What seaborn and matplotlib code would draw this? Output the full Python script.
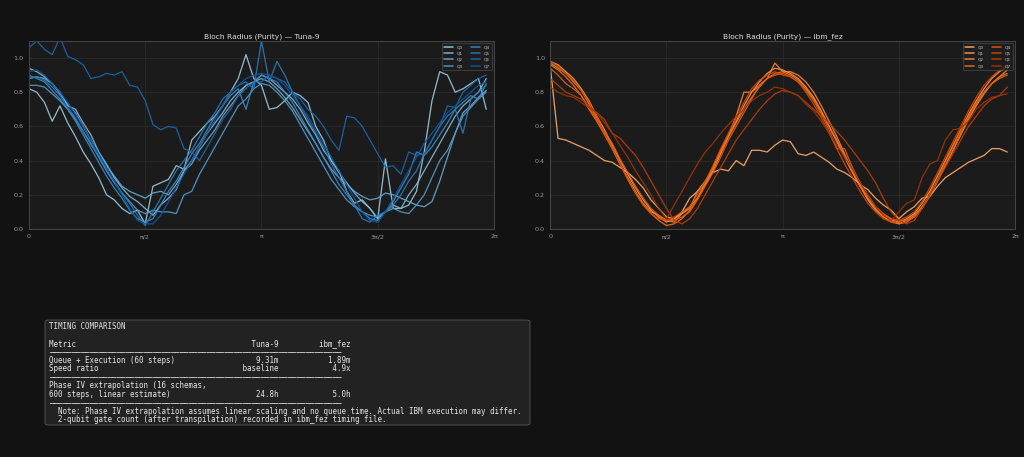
import numpy as np
import pandas as pd
import matplotlib
matplotlib.use("Agg")
import matplotlib.pyplot as plt
from matplotlib.patches import FancyBboxPatch
import seaborn as sns

# --- data -------------------------------------------------------------
n_steps = 60
qubits = ["Q0", "Q1", "Q2", "Q3", "Q4", "Q5", "Q6", "Q7"]

tuna_q0 = [0.82, 0.80, 0.74, 0.63, 0.72, 0.62, 0.54, 0.45, 0.38, 0.30, 0.20, 0.17, 0.12, 0.09, 0.11, 0.03, 0.25, 0.27, 0.29, 0.37,
           0.35, 0.52, 0.57, 0.62, 0.66, 0.72, 0.80, 0.88, 1.02, 0.88, 0.84, 0.70, 0.71, 0.75, 0.80, 0.78, 0.74, 0.60, 0.52, 0.40,
           0.34, 0.22, 0.15, 0.17, 0.12, 0.06, 0.41, 0.12, 0.12, 0.14, 0.22, 0.45, 0.75, 0.92, 0.90, 0.80, 0.82, 0.85, 0.88, 0.70]
tuna_q1 = [0.94, 0.92, 0.89, 0.85, 0.80, 0.72, 0.70, 0.62, 0.55, 0.45, 0.38, 0.30, 0.24, 0.19, 0.16, 0.12, 0.08, 0.14, 0.18, 0.23,
           0.34, 0.40, 0.48, 0.56, 0.62, 0.68, 0.75, 0.80, 0.84, 0.86, 0.90, 0.88, 0.84, 0.80, 0.76, 0.70, 0.62, 0.55, 0.46, 0.40,
           0.33, 0.27, 0.21, 0.16, 0.12, 0.06, 0.10, 0.14, 0.12, 0.20, 0.26, 0.34, 0.42, 0.50, 0.58, 0.66, 0.72, 0.76, 0.80, 0.88]
tuna_q2 = [0.88, 0.89, 0.88, 0.85, 0.79, 0.73, 0.68, 0.60, 0.52, 0.45, 0.37, 0.31, 0.25, 0.22, 0.20, 0.18, 0.21, 0.22, 0.20, 0.26,
           0.34, 0.38, 0.46, 0.52, 0.58, 0.66, 0.72, 0.78, 0.84, 0.86, 0.88, 0.86, 0.82, 0.77, 0.71, 0.64, 0.57, 0.50, 0.42, 0.35,
           0.30, 0.26, 0.22, 0.19, 0.17, 0.18, 0.21, 0.20, 0.18, 0.16, 0.14, 0.13, 0.16, 0.28, 0.42, 0.56, 0.68, 0.72, 0.77, 0.81]
tuna_q3 = [0.84, 0.84, 0.83, 0.79, 0.75, 0.70, 0.64, 0.57, 0.50, 0.42, 0.34, 0.27, 0.21, 0.16, 0.11, 0.09, 0.11, 0.10, 0.10, 0.09,
           0.20, 0.22, 0.32, 0.40, 0.48, 0.56, 0.64, 0.72, 0.76, 0.82, 0.85, 0.84, 0.80, 0.75, 0.69, 0.61, 0.53, 0.45, 0.37, 0.29,
           0.23, 0.17, 0.13, 0.10, 0.08, 0.07, 0.10, 0.12, 0.10, 0.09, 0.14, 0.20, 0.30, 0.40, 0.46, 0.56, 0.66, 0.71, 0.76, 0.80]
tuna_q4 = [0.90, 0.88, 0.86, 0.81, 0.76, 0.70, 0.63, 0.55, 0.47, 0.39, 0.31, 0.24, 0.18, 0.11, 0.06, 0.04, 0.06, 0.14, 0.22, 0.28,
           0.36, 0.44, 0.50, 0.58, 0.66, 0.72, 0.78, 0.82, 0.70, 0.86, 0.90, 0.88, 0.86, 0.80, 0.74, 0.66, 0.58, 0.50, 0.42, 0.34,
           0.26, 0.20, 0.14, 0.10, 0.06, 0.05, 0.10, 0.16, 0.24, 0.32, 0.45, 0.43, 0.48, 0.55, 0.62, 0.70, 0.74, 0.78, 0.76, 0.85]
tuna_q5 = [0.88, 0.89, 0.87, 0.83, 0.78, 0.71, 0.65, 0.57, 0.49, 0.43, 0.35, 0.28, 0.21, 0.15, 0.08, 0.02, 0.10, 0.18, 0.26, 0.34,
           0.40, 0.46, 0.54, 0.62, 0.68, 0.76, 0.80, 0.84, 0.86, 0.82, 1.10, 0.86, 0.98, 0.90, 0.80, 0.72, 0.64, 0.56, 0.48, 0.38,
           0.30, 0.22, 0.14, 0.06, 0.04, 0.08, 0.10, 0.14, 0.20, 0.28, 0.34, 0.44, 0.52, 0.60, 0.66, 0.70, 0.56, 0.76, 0.80, 0.84]
tuna_q6 = [1.06, 1.10, 1.05, 1.02, 1.12, 1.01, 0.99, 0.96, 0.88, 0.89, 0.91, 0.90, 0.92, 0.84, 0.83, 0.75, 0.61, 0.58, 0.60, 0.59,
           0.47, 0.45, 0.40, 0.48, 0.56, 0.64, 0.70, 0.78, 0.82, 0.86, 0.86, 0.90, 0.88, 0.86, 0.80, 0.76, 0.70, 0.66, 0.60, 0.52,
           0.46, 0.66, 0.65, 0.60, 0.52, 0.44, 0.36, 0.37, 0.32, 0.45, 0.43, 0.44, 0.52, 0.60, 0.72, 0.71, 0.80, 0.84, 0.88, 0.90]
tuna_q7 = [0.92, 0.93, 0.90, 0.85, 0.80, 0.74, 0.67, 0.60, 0.52, 0.44, 0.36, 0.28, 0.20, 0.12, 0.05, 0.03, 0.03, 0.08, 0.16, 0.24,
           0.32, 0.40, 0.48, 0.56, 0.64, 0.72, 0.80, 0.84, 0.88, 0.90, 0.91, 0.90, 0.88, 0.84, 0.78, 0.72, 0.66, 0.58, 0.50, 0.42,
           0.34, 0.26, 0.18, 0.10, 0.05, 0.04, 0.10, 0.18, 0.26, 0.34, 0.42, 0.50, 0.56, 0.62, 0.68, 0.72, 0.76, 0.80, 0.84, 0.86]

fez_q0 = [0.95, 0.53, 0.52, 0.50, 0.48, 0.46, 0.43, 0.40, 0.39, 0.36, 0.33, 0.29, 0.24, 0.17, 0.12, 0.07, 0.06, 0.10, 0.18, 0.22,
          0.28, 0.33, 0.35, 0.34, 0.40, 0.37, 0.46, 0.46, 0.45, 0.49, 0.52, 0.51, 0.44, 0.43, 0.45, 0.42, 0.39, 0.35, 0.33, 0.30,
          0.26, 0.23, 0.18, 0.14, 0.11, 0.06, 0.10, 0.13, 0.18, 0.19, 0.25, 0.30, 0.33, 0.36, 0.39, 0.41, 0.43, 0.47, 0.47, 0.45]
fez_q1 = [0.98, 0.96, 0.92, 0.88, 0.82, 0.75, 0.66, 0.58, 0.49, 0.40, 0.32, 0.24, 0.17, 0.11, 0.07, 0.04, 0.06, 0.09, 0.13, 0.18,
          0.26, 0.34, 0.44, 0.54, 0.63, 0.72, 0.80, 0.86, 0.91, 0.94, 0.93, 0.91, 0.88, 0.83, 0.77, 0.69, 0.60, 0.51, 0.42, 0.33,
          0.25, 0.17, 0.11, 0.07, 0.05, 0.04, 0.06, 0.09, 0.15, 0.22, 0.31, 0.40, 0.49, 0.58, 0.67, 0.75, 0.82, 0.88, 0.92, 0.95]
fez_q2 = [0.97, 0.94, 0.91, 0.86, 0.81, 0.73, 0.65, 0.57, 0.47, 0.38, 0.30, 0.22, 0.15, 0.10, 0.08, 0.05, 0.04, 0.09, 0.12, 0.22,
          0.26, 0.36, 0.46, 0.55, 0.66, 0.80, 0.80, 0.84, 0.88, 0.97, 0.92, 0.92, 0.90, 0.86, 0.80, 0.72, 0.63, 0.54, 0.44, 0.34,
          0.26, 0.18, 0.12, 0.08, 0.06, 0.03, 0.05, 0.08, 0.13, 0.20, 0.28, 0.37, 0.46, 0.55, 0.64, 0.72, 0.79, 0.85, 0.89, 0.93]
fez_q3 = [0.96, 0.93, 0.89, 0.84, 0.78, 0.70, 0.63, 0.55, 0.47, 0.38, 0.29, 0.21, 0.14, 0.09, 0.05, 0.02, 0.03, 0.06, 0.11, 0.18,
          0.27, 0.36, 0.45, 0.54, 0.62, 0.70, 0.77, 0.83, 0.88, 0.91, 0.92, 0.90, 0.87, 0.82, 0.76, 0.68, 0.60, 0.52, 0.43, 0.34,
          0.25, 0.18, 0.12, 0.07, 0.04, 0.03, 0.04, 0.07, 0.12, 0.19, 0.28, 0.37, 0.46, 0.56, 0.65, 0.73, 0.80, 0.85, 0.89, 0.91]
fez_q4 = [0.94, 0.90, 0.85, 0.82, 0.78, 0.71, 0.64, 0.57, 0.50, 0.41, 0.33, 0.25, 0.18, 0.12, 0.08, 0.05, 0.05, 0.07, 0.10, 0.17,
          0.25, 0.33, 0.42, 0.52, 0.60, 0.68, 0.76, 0.84, 0.88, 0.90, 0.91, 0.89, 0.86, 0.81, 0.75, 0.67, 0.58, 0.47, 0.47, 0.36,
          0.27, 0.20, 0.13, 0.09, 0.06, 0.05, 0.05, 0.07, 0.12, 0.20, 0.29, 0.39, 0.48, 0.58, 0.66, 0.74, 0.80, 0.85, 0.88, 0.90]
fez_q5 = [0.98, 0.95, 0.91, 0.87, 0.81, 0.74, 0.66, 0.56, 0.47, 0.38, 0.29, 0.21, 0.14, 0.09, 0.06, 0.05, 0.07, 0.10, 0.13, 0.20,
          0.28, 0.37, 0.47, 0.56, 0.65, 0.74, 0.82, 0.87, 0.90, 0.92, 0.90, 0.89, 0.86, 0.80, 0.73, 0.65, 0.56, 0.47, 0.38, 0.30,
          0.22, 0.15, 0.10, 0.06, 0.04, 0.05, 0.07, 0.10, 0.16, 0.24, 0.33, 0.42, 0.51, 0.60, 0.69, 0.77, 0.84, 0.89, 0.93, 0.96]
fez_q6 = [0.88, 0.84, 0.80, 0.78, 0.76, 0.72, 0.68, 0.64, 0.56, 0.53, 0.48, 0.43, 0.36, 0.28, 0.20, 0.12, 0.05, 0.03, 0.06, 0.12,
          0.20, 0.28, 0.36, 0.44, 0.52, 0.58, 0.64, 0.70, 0.75, 0.79, 0.81, 0.80, 0.78, 0.74, 0.70, 0.66, 0.62, 0.57, 0.52, 0.46,
          0.40, 0.34, 0.27, 0.18, 0.10, 0.05, 0.03, 0.05, 0.12, 0.20, 0.28, 0.36, 0.44, 0.52, 0.60, 0.66, 0.72, 0.76, 0.78, 0.83]
fez_q7 = [0.83, 0.80, 0.78, 0.77, 0.74, 0.71, 0.68, 0.62, 0.56, 0.49, 0.42, 0.34, 0.27, 0.20, 0.12, 0.06, 0.14, 0.22, 0.30, 0.38,
          0.45, 0.50, 0.56, 0.61, 0.66, 0.70, 0.75, 0.78, 0.80, 0.83, 0.82, 0.80, 0.78, 0.73, 0.69, 0.63, 0.56, 0.49, 0.42, 0.35,
          0.27, 0.20, 0.13, 0.08, 0.05, 0.10, 0.15, 0.17, 0.30, 0.38, 0.40, 0.52, 0.58, 0.59, 0.63, 0.70, 0.74, 0.77, 0.78, 0.79]

tuna_series = [tuna_q0, tuna_q1, tuna_q2, tuna_q3, tuna_q4, tuna_q5, tuna_q6, tuna_q7]
fez_series = [fez_q0, fez_q1, fez_q2, fez_q3, fez_q4, fez_q5, fez_q6, fez_q7]

xtick_labels = ["0", "π/2", "π", "3π/2", "2π"]

table_title = "TIMING COMPARISON"
table_header = ["Metric", "Tuna-9", "ibm_fez"]
table_rows = [
    ["Queue + Execution (60 steps)", "9.31m", "1.89m"],
    ["Speed ratio", "baseline", "4.9x"],
]
table_extra_label = ["Phase IV extrapolation (16 schemas,", "600 steps, linear estimate)"]
table_extra_vals = ["24.8h", "5.0h"]
table_notes = [
    "Note: Phase IV extrapolation assumes linear scaling and no queue time. Actual IBM execution may differ.",
    "2-qubit gate count (after transpilation) recorded in ibm_fez timing file.",
]

# --- style ------------------------------------------------------------
FIG_BG = "#121212"
AX_BG = "#1b1b1b"
sns.set_style("dark", {
    "axes.facecolor": AX_BG,
    "figure.facecolor": FIG_BG,
    "axes.edgecolor": "#444444",
    "grid.color": "#2c2c2c",
    "axes.grid": True,
    "xtick.color": "#999999",
    "ytick.color": "#999999",
    "text.color": "#dddddd",
    "axes.labelcolor": "#bbbbbb",
})
plt.rcParams["font.family"] = ["DejaVu Sans"]

theta = np.arange(n_steps) * 2 * np.pi / n_steps


def to_frame(series):
    frames = []
    for q, vals in zip(qubits, series):
        frames.append(pd.DataFrame({"theta": theta, "radius": vals, "qubit": q}))
    return pd.concat(frames, ignore_index=True)


def draw_panel(ax, series, cmap, title, lo, hi):
    df = to_frame(series)
    colors = [cmap(v) for v in np.linspace(lo, hi, len(qubits))]
    sns.lineplot(data=df, x="theta", y="radius", hue="qubit", palette=colors,
                 ax=ax, linewidth=1.8, alpha=0.9)
    ax.set_xlim(0, 2 * np.pi)
    ax.set_ylim(0, 1.1)
    ax.set_xticks([0, np.pi / 2, np.pi, 3 * np.pi / 2, 2 * np.pi])
    ax.set_xticklabels(xtick_labels)
    ax.set_yticks([0.0, 0.2, 0.4, 0.6, 0.8, 1.0])
    ax.tick_params(labelsize=9, length=4, width=1.2, colors="#999999")
    ax.set_xlabel("")
    ax.set_ylabel("")
    ax.grid(True, color="#2c2c2c", linewidth=1.0)
    ax.set_title(title, fontsize=10.5, color="#dddddd", pad=4)
    for s in ax.spines.values():
        s.set_color("#444444")
        s.set_linewidth(1.5)
    leg = ax.legend(loc="upper right", ncol=2, fontsize=6, frameon=True,
                    handlelength=2.1, columnspacing=2.0, labelspacing=0.55,
                    borderpad=0.5)
    leg.get_frame().set_facecolor("#1e1e1e")
    leg.get_frame().set_edgecolor("#555555")
    for h in leg.get_lines():
        h.set_linewidth(2.2)
    for t in leg.get_texts():
        t.set_color("#cccccc")


W, H = 1024, 457
fig = plt.figure(figsize=(20, 8.926), dpi=51.2)
ax1 = fig.add_axes([0.0283, 0.499, 0.4541, 0.4115])
ax2 = fig.add_axes([0.5374, 0.499, 0.4538, 0.4115])

draw_panel(ax1, tuna_series, plt.cm.Blues, "Bloch Radius (Purity) — Tuna-9", 0.38, 0.85)
draw_panel(ax2, fez_series, plt.cm.Oranges, "Bloch Radius (Purity) — ibm_fez", 0.38, 0.9)

# --- timing table (monospace text block) -------------------------------
sep = "─" * 65
lines = [table_title, "", f"{table_header[0]:<40}{table_header[1]:>11}{table_header[2]:>16}", sep]
for lab, t, f in table_rows:
    lines.append(f"{lab:<40}{t:>11}{f:>16}")
lines.append(sep)
lines.append(table_extra_label[0])
lines.append(f"{table_extra_label[1]:<40}{table_extra_vals[0]:>11}{table_extra_vals[1]:>16}")
lines.append(sep)
for note in table_notes:
    lines.append("  " + note)

box = FancyBboxPatch((45 / W, 1 - 425 / H), 485 / W, 105 / H,
                     boxstyle="round,pad=0,rounding_size=0.004",
                     transform=fig.transFigure, facecolor="#222222",
                     edgecolor="#555555", linewidth=1.2)
fig.patches.append(box)

line_step = 8.45
for k, line in enumerate(lines):
    if not line:
        continue
    y_px = 326.5 + k * line_step
    fig.text(49 / W, 1 - y_px / H, line, family="DejaVu Sans Mono",
             fontsize=10.6, color="#e6e6e6", va="center", ha="left")

fig.savefig("out.png", dpi=51.2, facecolor=FIG_BG)
